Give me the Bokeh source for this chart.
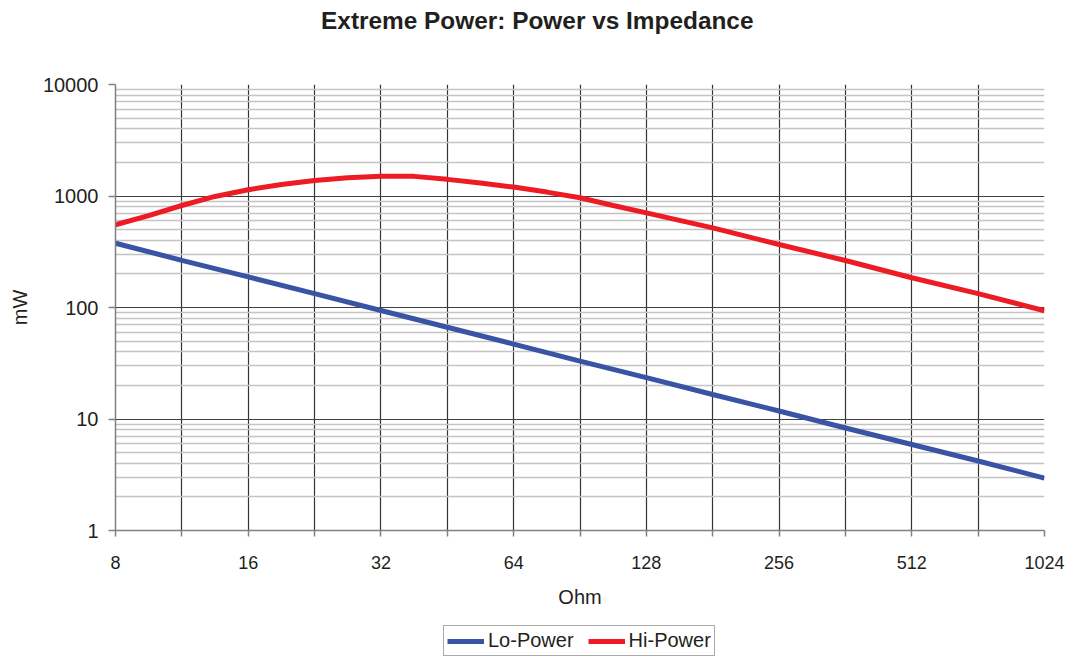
from bokeh.plotting import figure
from bokeh.layouts import column
from bokeh.models import Range1d, FixedTicker, NumeralTickFormatter, Legend, LegendItem, Label
from bokeh.embed import file_html
from bokeh.resources import INLINE

# --- data ---
lo_ohm = [8, 11.31, 16, 22.63, 32, 45.25, 64, 90.51, 128, 181.02, 256, 362.04, 512, 724.08, 1024]
lo_power = [377, 265, 188, 133, 94, 66.5, 47, 33, 23.5, 16.6, 11.8, 8.3, 5.9, 4.2, 2.95]
hi_ohm = [8, 9.51, 11.31, 13.45, 16, 19.03, 22.63, 26.91, 32, 38.05, 45.25, 53.82, 64,
          76.11, 90.51, 107.6, 128, 181.02, 256, 362.04, 512, 724.08, 1024]
hi_power = [552, 668, 822, 991, 1138, 1270, 1380, 1459, 1500, 1500, 1410, 1306, 1202,
            1084, 965, 822, 705, 518, 367, 264, 185, 133, 93.5]

x_ticks = [8, 16, 32, 64, 128, 256, 512, 1024]
x_minor = [11.31, 22.63, 45.25, 90.51, 181.02, 362.04, 724.08]
y_ticks = [1, 10, 100, 1000, 10000]
y_minor = [m * d for d in [1, 10, 100, 1000] for m in range(2, 10)]

TITLE = "Extreme Power: Power vs Impedance"
FONT = "Liberation Sans"
BLUE = "#3a53a4"
RED = "#ed1c24"
TXT = "#231f20"


def strip(height):
    f = figure(width=1075, height=height, x_range=Range1d(0, 1), y_range=Range1d(0, 1),
               output_backend="svg", toolbar_location=None,
               x_axis_location=None, y_axis_location=None,
               min_border_left=0, min_border_right=0, min_border_top=0, min_border_bottom=0)
    f.outline_line_color = None
    f.xgrid.visible = False
    f.ygrid.visible = False
    return f


# title strip
pt = strip(40)
pt.add_layout(Label(x=0.454, y=0.5, text=TITLE, text_align="center", text_baseline="middle",
                    text_font=FONT, text_font_size="24.4px", text_font_style="bold",
                    text_color=TXT))

# main chart
p = figure(width=1075, height=572, x_axis_type="log", y_axis_type="log",
           x_range=Range1d(8, 1024), y_range=Range1d(1, 10000),
           output_backend="svg", toolbar_location=None,
           min_border_left=115, min_border_right=31, min_border_top=44,
           min_border_bottom=82)

p.outline_line_color = None
p.background_fill_color = "white"
p.border_fill_color = "white"

p.xaxis.ticker = FixedTicker(ticks=x_ticks, minor_ticks=x_minor)
p.xaxis.formatter = NumeralTickFormatter(format="0")
p.xaxis.axis_label = "Ohm"
p.yaxis.ticker = FixedTicker(ticks=y_ticks, minor_ticks=y_minor)
p.yaxis.formatter = NumeralTickFormatter(format="0")
p.yaxis.axis_label = "mW"

for ax in (p.xaxis, p.yaxis):
    ax.axis_line_color = "#808080"
    ax.axis_line_width = 1.5
    ax.major_tick_line_color = "#808080"
    ax.major_tick_line_width = 1.5
    ax.major_tick_in = 0
    ax.major_label_text_font = FONT
    ax.major_label_text_color = TXT
    ax.axis_label_text_font = FONT
    ax.axis_label_text_font_size = "20px"
    ax.axis_label_text_font_style = "normal"
    ax.axis_label_text_color = TXT

p.xaxis.major_label_text_font_size = "18px"
p.yaxis.major_label_text_font_size = "20px"

p.xaxis.major_tick_out = 6
p.xaxis.minor_tick_out = 6
p.xaxis.minor_tick_in = 0
p.xaxis.minor_tick_line_color = "#808080"
p.xaxis.minor_tick_line_width = 1.5
p.xaxis.major_label_standoff = 19
p.xaxis.axis_label_standoff = 14

p.yaxis.major_tick_out = 7
p.yaxis.minor_tick_out = 0
p.yaxis.minor_tick_in = 0
p.yaxis.minor_tick_line_color = None
p.yaxis.major_label_standoff = 10
p.yaxis.axis_label_standoff = 9

p.xgrid.grid_line_color = "#333333"
p.xgrid.grid_line_width = 1.2
p.xgrid.minor_grid_line_color = "#333333"
p.xgrid.minor_grid_line_width = 1.2
p.ygrid.grid_line_color = "#404040"
p.ygrid.grid_line_width = 1.2
p.ygrid.minor_grid_line_color = "#c4c4c4"
p.ygrid.minor_grid_line_width = 1.6

p.line(lo_ohm, lo_power, line_color=BLUE, line_width=5)
p.line(hi_ohm, hi_power, line_color=RED, line_width=5)

# legend strip below the chart (series drawn outside this strip's view; only the key shows)
pl = strip(47)
k_lo = pl.line(lo_ohm, lo_power, line_color=BLUE, line_width=5)
k_hi = pl.line(hi_ohm, hi_power, line_color=RED, line_width=5)

legend = Legend(items=[LegendItem(label="Lo-Power", renderers=[k_lo]),
                       LegendItem(label="Hi-Power", renderers=[k_hi])],
                orientation="horizontal", location=(328, 3),
                border_line_color="#555555", border_line_width=1,
                background_fill_color="white",
                label_text_font=FONT, label_text_font_size="20px",
                label_text_color=TXT,
                glyph_width=37, glyph_height=20, label_height=20,
                label_standoff=4, spacing=14, padding=3, margin=0)
pl.add_layout(legend, "center")

layout = column(pt, p, pl, spacing=0)
open("out.html", "w").write(file_html(layout, INLINE))
